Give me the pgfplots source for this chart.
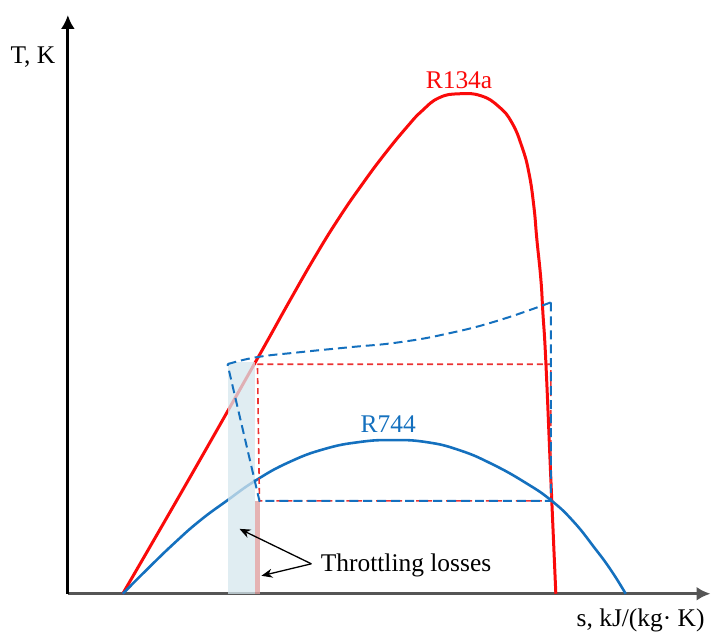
\documentclass[border=0pt]{standalone}
\usepackage{pgfplots}
\pgfplotsset{compat=1.18}
\usepackage{pgfplotstable}
\usetikzlibrary{arrows.meta}
\usepackage{fontspec}
\setmainfont{Liberation Serif}

\definecolor{rred}{RGB}{250,10,10}
\definecolor{rdash}{RGB}{235,50,50}
\definecolor{rblue}{RGB}{20,112,190}
\definecolor{shblue}{RGB}{214,231,238}
\definecolor{shpink}{RGB}{222,160,160}
\definecolor{axgray}{RGB}{85,85,85}

% points: px = x pixel, py = y pixel (from top)
\pgfplotstableread{
px py
123 595
190 479
257 361
290 302
317 255
340 218
362 186
385 155
408 127
423 111
440 98
460 94
482 96
500 107
513 123
523 147
530 173
535 207
538 240
542 280
544 313
547 363
552 480
557 595
}\rdome

\pgfplotstableread{
px py
123 595
150 568
175 544
200 522
227 502
257 481
290 463
325 450
360 443
393 441
427 443
460 451
493 465
527 484
553 502
575 523
595 548
612 571
627 595
}\bdome

\pgfplotstableread{
px py
228 365
257 358
300 353
350 348
400 343
450 334
500 321
552 303
}\btop

\begin{document}
\begin{tikzpicture}[font=\fontsize{25.5}{30}\selectfont]
\begin{axis}[
  width=644pt, height=580pt, scale only axis,
  xmin=68, xmax=712, ymin=40, ymax=620,
  axis lines=left,
  x axis line style={draw=axgray, line width=3pt, -{Latex[length=14pt,width=14pt]}},
  y axis line style={draw=black, line width=3pt, -{Latex[length=14pt,width=14pt]}},
  xtick=\empty, ytick=\empty,
  clip=false,
]
% bounding box of the whole picture
\path (axis cs:0,0) rectangle (axis cs:712,635);

\addplot[rred, line width=3pt, smooth, tension=0.8]
  table[x=px, y expr=635-\thisrow{py}] {\rdome};
\addplot[rblue, line width=2.6pt, smooth, tension=0.8]
  table[x=px, y expr=635-\thisrow{py}] {\bdome};

% throttling losses
\addplot[draw=none, fill=shblue, fill opacity=0.75]
  coordinates {(228,40) (256,40) (256,272) (228,272)} -- cycle;
\addplot[draw=none, fill=shpink, fill opacity=0.8]
  coordinates {(256,40) (261,40) (261,133) (256,133)} -- cycle;

% R134a cycle
\addplot[rdash, line width=1.6pt, dash pattern=on 6pt off 4pt]
  coordinates {(258,270) (552,270) (552,133) (260,133) (258,270)};
% R744 cycle
\addplot[rblue, line width=2pt, dash pattern=on 9pt off 5pt, smooth, tension=0.8]
  table[x=px, y expr=635-\thisrow{py}] {\btop};
\addplot[rblue, line width=2pt, dash pattern=on 9pt off 5pt]
  coordinates {(552,332) (552,133) (260,133) (228,270)};

\node[text=rred] at (axis cs:460,555) {R134a};
\node[text=rblue] at (axis cs:389,210) {R744};
\node at (axis cs:33,578) {T, K};
\node at (axis cs:642,13) {s, kJ/(kg· K)};
\node[anchor=west] at (axis cs:318,68) {Throttling losses};
\draw[line width=1.3pt, -{Stealth[length=11pt,width=9pt]}]
  (axis cs:312,70) -- (axis cs:240,105);
\draw[line width=1.3pt, -{Stealth[length=11pt,width=9pt]}]
  (axis cs:312,70) -- (axis cs:262,58);
\end{axis}
\end{tikzpicture}
\end{document}
